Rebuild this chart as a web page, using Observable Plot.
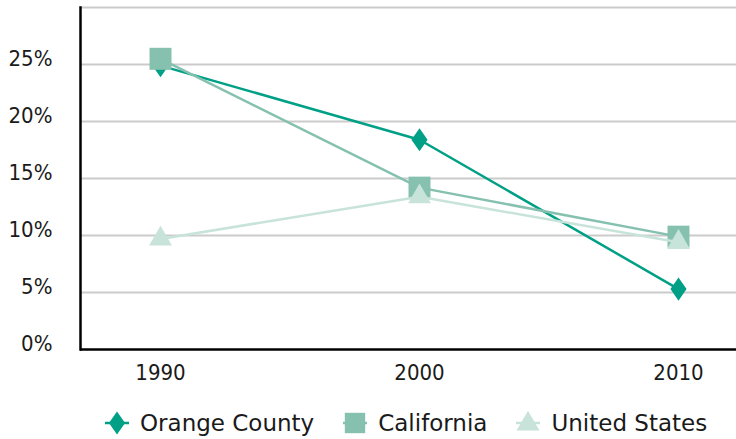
<!DOCTYPE html>
<html><head><meta charset="utf-8">
<script src="https://cdn.jsdelivr.net/npm/d3@7"></script>
<script src="https://cdn.jsdelivr.net/npm/@observablehq/plot@0.6"></script>
<style>
body{margin:0;background:#fff;font-family:"DejaVu Sans",sans-serif;overflow:hidden;}
#chart svg{display:block;}
#legend{display:flex;align-items:center;height:39px;padding-top:3px;padding-left:102px;color:#1a1a1a;font-size:23px;font-family:"DejaVu Sans",sans-serif;}
#legend .item{display:flex;align-items:center;margin-right:26px;}
#legend .item svg{display:block;}
#legend .item span{margin-left:8px;white-space:nowrap;}
</style></head><body><div id="chart"></div><div id="legend"></div>
<script>
const years = ["1990", "2000", "2010"];
const seriesNames = ["Orange County", "California", "United States"];
const orangeCounty = [24.9, 18.4, 5.3];
const california = [25.5, 14.2, 9.9];
const unitedStates = [9.7, 13.4, 9.4];
const colors = ["#00a086", "#86c1b0", "#c7e3da"];
const yTicks = [0, 5, 10, 15, 20, 25];
const gridValues = [5, 10, 15, 20, 25, 30];

const seriesValues = [orangeCounty, california, unitedStates];
const data = seriesNames.flatMap((s, i) => years.map((yr, j) => ({series: s, year: yr, value: seriesValues[i][j]})));

const tallDiamond = {
  draw(ctx, size) {
    const r = Math.sqrt(size / Math.PI);
    const h = r * 1.65, w = r * 1.15;
    ctx.moveTo(0, -h); ctx.lineTo(w, 0); ctx.lineTo(0, h); ctx.lineTo(-w, 0); ctx.closePath();
  }
};
const symbols = [tallDiamond, d3.symbolSquare, d3.symbolTriangle];
const radii = [7, 12.4, 8.5];

const marks = [
  Plot.ruleY(gridValues, {stroke: "#cbcbcb", strokeWidth: 2}),
  Plot.axisY(yTicks, {tickSize: 0, tickPadding: 28, tickFormat: d => d + "%", fontSize: 22, dy: -6, fill: "#1a1a1a"}),
  Plot.axisX({tickSize: 0, tickPadding: 15, fontSize: 22, fill: "#1a1a1a"})
];
seriesNames.forEach((s, i) => {
  const sub = data.filter(d => d.series === s);
  marks.push(Plot.line(sub, {x: "year", y: "value", stroke: colors[i], strokeWidth: 2.5}));
  marks.push(Plot.dot(sub, {x: "year", y: "value", fill: colors[i], stroke: "none", symbol: () => symbols[i], r: radii[i]}));
});
marks.push(Plot.frame({anchor: "left", stroke: "#000", strokeWidth: 2.5}));
marks.push(Plot.ruleY([0], {stroke: "#000", strokeWidth: 2.5}));

const chart = Plot.plot({
  width: 736,
  height: 400,
  marginLeft: 80,
  marginRight: 0,
  marginTop: 7,
  marginBottom: 51,
  style: {fontFamily: "'DejaVu Sans Condensed', 'DejaVu Sans', sans-serif", fontStretch: "condensed", fontSize: "22px", background: "#fff", overflow: "hidden"},
  x: {type: "point", domain: years, padding: 0.304, insetRight: -21, label: null},
  y: {domain: [0, 30], label: null},
  symbol: {type: "identity"},
  marks
});
document.getElementById("chart").appendChild(chart);

const legend = d3.select("#legend");
const legendSizes = [7, 11.5, 8.5];
seriesNames.forEach((s, i) => {
  const item = legend.append("div").attr("class", "item");
  const svg = item.append("svg").attr("width", 30).attr("height", 30);
  svg.append("line").attr("x1", 3).attr("x2", 27).attr("y1", 15).attr("y2", 15).attr("stroke", colors[i]).attr("stroke-width", 2.5);
  const r = legendSizes[i];
  svg.append("path").attr("transform", i === 2 ? "translate(15,16)" : "translate(15,15)").attr("d", d3.symbol(symbols[i], Math.PI * r * r)()).attr("fill", colors[i]);
  item.append("span").text(s);
});
</script></body></html>
